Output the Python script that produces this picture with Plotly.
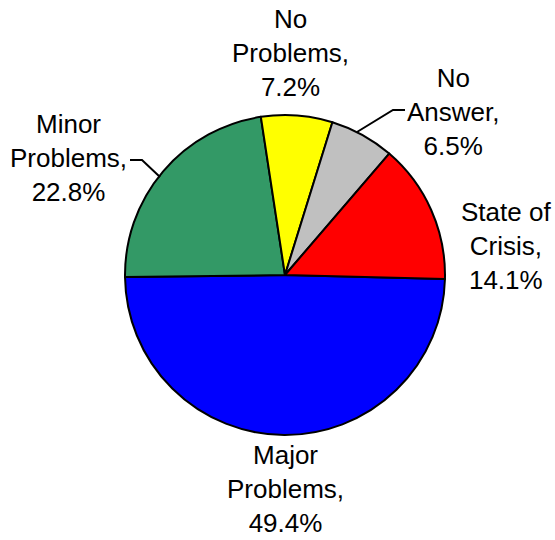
import plotly.graph_objects as go

# Data (clockwise from the 3 o'clock position)
categories = ["Major Problems", "Minor Problems", "No Problems", "No Answer", "State of Crisis"]
label_lines = [["Major", "Problems,"], ["Minor", "Problems,"], ["No", "Problems,"], ["No", "Answer,"], ["State of", "Crisis,"]]
values = [49.4, 22.8, 7.2, 6.5, 14.1]
colors = ["#0000FF", "#339966", "#FFFF00", "#C0C0C0", "#FF0000"]

W, H = 555, 540
# label anchor positions (pixel centers of label blocks)
label_pos = [(285, 489), (68, 158), (290, 53), (453, 112), (506, 246)]

fig = go.Figure(go.Pie(
    labels=categories,
    values=values,
    sort=False,
    direction="clockwise",
    rotation=91.4,
    marker=dict(colors=colors, line=dict(color="black", width=2)),
    textinfo="none",
    hoverinfo="label+percent",
    showlegend=False,
    domain=dict(x=[125 / W, 445 / W], y=[1 - 435 / H, 1 - 115 / H]),
))

font = dict(family="Liberation Sans, Arial, sans-serif", size=26, color="black")
for lines, v, (px, py) in zip(label_lines, values, label_pos):
    text = "<br>".join(lines + [f"{v}%"])
    fig.add_annotation(text=text, x=px / W, y=1 - py / H, xref="paper", yref="paper",
                       xanchor="center", yanchor="middle", showarrow=False, font=font,
                       borderpad=0)

def ppath(pts):
    return "M " + " L ".join(f"{x / W},{1 - y / H}" for x, y in pts)

leaders = [
    [(130, 160), (142, 160), (160, 177)],
    [(405, 110), (393, 110), (357, 132)],
]
for pts in leaders:
    fig.add_shape(type="path", xref="paper", yref="paper", path=ppath(pts),
                  line=dict(color="black", width=2))

fig.update_layout(
    width=W, height=H,
    margin=dict(l=0, r=0, t=0, b=0),
    paper_bgcolor="white", plot_bgcolor="white",
)
fig.write_html("out.html", config={"displayModeBar": False},
               post_script="document.body.style.margin='0';document.body.style.padding='0';")
